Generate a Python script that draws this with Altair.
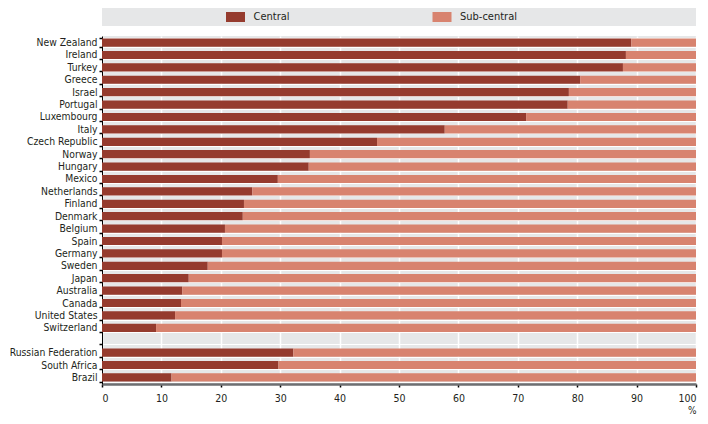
import altair as alt
import pandas as pd

countries = ["New Zealand", "Ireland", "Turkey", "Greece", "Israel", "Portugal",
             "Luxembourg", "Italy", "Czech Republic", "Norway", "Hungary", "Mexico",
             "Netherlands", "Finland", "Denmark", "Belgium", "Spain", "Germany",
             "Sweden", "Japan", "Australia", "Canada", "United States", "Switzerland",
             " ", "Russian Federation", "South Africa", "Brazil"]
central = [89.1, 88.2, 87.7, 80.5, 78.6, 78.4,
           71.4, 57.7, 46.3, 35.0, 34.8, 29.6,
           25.3, 23.9, 23.7, 20.7, 20.2, 20.2,
           17.8, 14.6, 13.5, 13.3, 12.3, 9.1,
           None, 32.2, 29.7, 11.7]
series = ["Central", "Sub-central"]
colors = ["#953b2e", "#d8836f"]
ticks_x = [0, 10, 20, 30, 40, 50, 60, 70, 80, 90, 100]

rows = []
for c, v in zip(countries, central):
    if v is None:
        continue
    rows.append({"country": c, "series": "Central", "value": v, "ord": 0})
    rows.append({"country": c, "series": "Sub-central", "value": round(100 - v, 1), "ord": 1})
df = pd.DataFrame(rows)

FONT = "'DejaVu Sans Condensed', 'Liberation Sans', sans-serif"
TXT = "#231f20"

color_scale = alt.Scale(domain=series, range=colors)

main = alt.Chart(df).mark_bar().encode(
    y=alt.Y("country:N", sort=countries,
            scale=alt.Scale(domain=countries, paddingInner=0.34, paddingOuter=0.2),
            axis=alt.Axis(title=None, tickBand="extent", grid=True, gridColor="white",
                          gridWidth=1, domainColor="black", domainWidth=1,
                          tickColor="black", tickSize=3, tickWidth=1.5,
                          labelPadding=2, labelFont=FONT, labelFontSize=10.3,
                          labelColor=TXT)),
    x=alt.X("value:Q", stack="zero",
            scale=alt.Scale(domain=[0, 100], nice=False),
            axis=alt.Axis(values=ticks_x, title="%", titleAnchor="end", titleAlign="right",
                          titleFont=FONT, titleFontSize=10, titleFontWeight="normal",
                          titleColor=TXT, titlePadding=2, labelFlush=True,
                          grid=True, gridColor="white", gridWidth=1.5,
                          domainColor="#6d6e71", domainWidth=2.5,
                          tickColor="black", tickSize=3, tickWidth=1.5,
                          labelPadding=6, labelFont=FONT, labelFontSize=10.5,
                          labelColor=TXT)),
    color=alt.Color("series:N", scale=color_scale, legend=None),
    order=alt.Order("ord:Q"),
).properties(width=594, height=348)

leg_df = pd.DataFrame({"series": series})
leg_x = alt.X("series:N", scale=alt.Scale(domain=series, range=[133.5, 340], padding=0),
              axis=None)
swatch = alt.Chart(leg_df).mark_point(
    shape="M-0.95,-0.5L0.95,-0.5L0.95,0.5L-0.95,0.5Z", size=400, filled=True, opacity=1
).encode(x=leg_x, color=alt.Color("series:N", scale=color_scale, legend=None))
label = alt.Chart(leg_df).mark_text(
    align="left", baseline="middle", dx=18, font=FONT, fontSize=11, color=TXT
).encode(x=leg_x, text="series:N")
top = alt.layer(swatch, label).properties(width=594, height=18)

chart = alt.vconcat(top, main, spacing=10, bounds="flush").properties(
    padding={"left": 1, "top": 0, "right": 2, "bottom": 0}
).configure_view(fill="#e6e7e8", strokeWidth=0)

chart.save("out.html", embed_options={"renderer": "svg", "actions": False})
